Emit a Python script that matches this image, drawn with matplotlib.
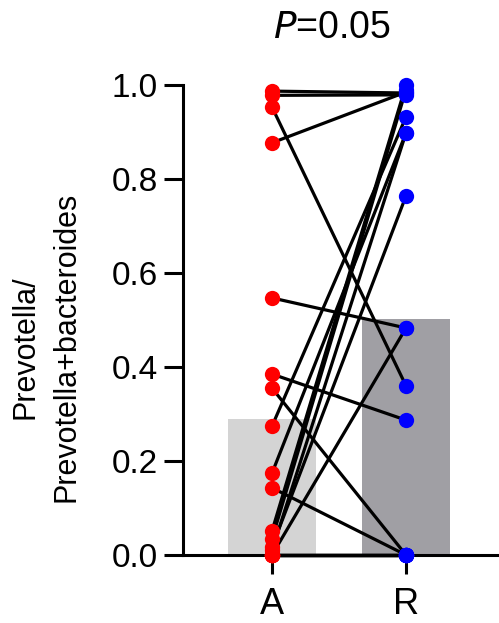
import numpy as np
import matplotlib
matplotlib.use("Agg")
import matplotlib.pyplot as plt

plt.rcParams['font.family'] = ['Liberation Sans', 'DejaVu Sans']

# paired samples, one entry per subject (A value, R value)
groups = ["A", "R"]
a_vals = [0.987, 0.978, 0.953, 0.877, 0.547, 0.385, 0.355, 0.274, 0.174, 0.143,
          0.051, 0.034, 0.017, 0.0, 0.010, 0.0, 0.0, 0.0, 0.0, 0.0]
r_vals = [0.983, 0.979, 0.360, 0.985, 0.483, 0.287, 0.0, 0.932, 0.898, 0.0,
          1.000, 0.990, 0.764, 0.483, 0.898, 0.0, 0.0, 0.0, 0.0, 0.0]
yticks = [0.0, 0.2, 0.4, 0.6, 0.8, 1.0]
p_text = "$\\mathit{P}$=0.05"

means = [np.mean(a_vals), np.mean(r_vals)]
xpos = np.arange(len(groups))

fig = plt.figure(figsize=(4.99, 6.23), dpi=100)
ax = fig.add_axes([183/499, 68/623, 316/499, 470/623])

ax.bar(xpos, means, width=0.657, color=['#d4d4d4', '#a09fa4'], zorder=1)

for a, r in zip(a_vals, r_vals):
    ax.plot(xpos, [a, r], color='black', lw=2.3, zorder=2, clip_on=False)

ax.plot(np.zeros(len(a_vals)), a_vals, 'o', color='#ff0000', ms=11, mew=0,
        zorder=3, clip_on=False)
ax.plot(np.ones(len(r_vals)), r_vals, 'o', color='#0000ff', ms=11, mew=0,
        zorder=3, clip_on=False)

ax.set_xlim(-89/134, 227/134)
ax.set_ylim(0, 1)
ax.set_yticks(yticks)
ax.set_yticklabels(["%.1f" % t for t in yticks], fontsize=24)
ax.set_xticks(xpos)
ax.set_xticklabels(groups, fontsize=26)
ax.tick_params(axis='y', length=14, width=2.2, pad=4)
ax.tick_params(axis='x', length=14, width=2.2, pad=9)

for s in ['top', 'right']:
    ax.spines[s].set_visible(False)
for s in ['left', 'bottom']:
    ax.spines[s].set_linewidth(2.2)

fig.text(46/499, 1 - 347/623, "Prevotella/\nPrevotella+bacteroides",
         rotation=90, ha='center', va='center', multialignment='center',
         fontsize=22, linespacing=1.5)
fig.text(332/499, 1 - 28/623, p_text, ha='center', va='center', fontsize=27)

fig.savefig("out.png", dpi=100)
